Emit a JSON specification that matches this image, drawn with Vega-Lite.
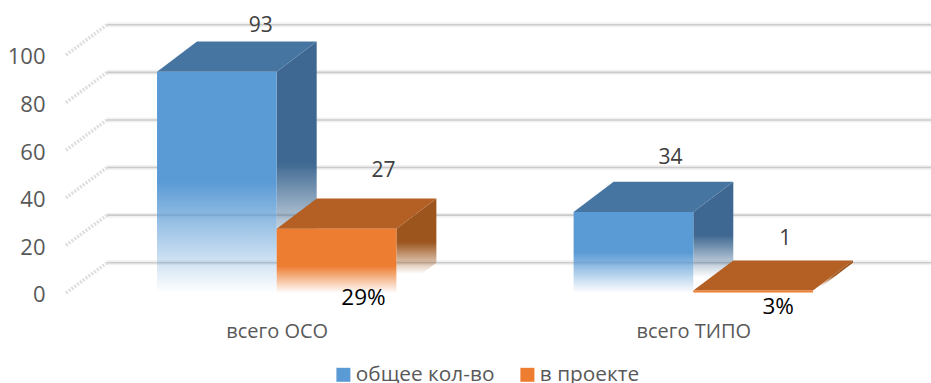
{
"$schema":"https://vega.github.io/schema/vega-lite/v6.json",
"width":931,"height":383,"padding":0,"autosize":"none","background":"white",
"params":[{"name":"barW","value":0.2873},{"name":"depthX","value":0.096},{"name":"depthY","value":12.7}],
"config":{"view":{"stroke":null},"font":"Open Sans"},
"layer":[
{"data":{"values":[{"tick":0},{"tick":20},{"tick":40},{"tick":60},{"tick":80},{"tick":100}]},
 "layer":[
 {"transform":[{"calculate":"datum.tick+depthY","as":"back"},{"calculate":"-0.4073","as":"gx"},{"calculate":"1.5706","as":"gx2"}],
  "mark":{"type":"rule","stroke":"#f1f1f1","strokeWidth":5},
  "encoding":{
   "x":{"field":"gx","type":"quantitative","title":null,"scale":{"domain":[-0.6642,1.5706],"nice":false,"zero":false},
        "axis":{"values":[0,1],"labelExpr":"datum.value==0?'всего ОСО':'всего ТИПО'","domain":false,"ticks":false,"grid":false,"offset":-62,"labelPadding":0,"labelFontSize":20,"labelColor":"#595959","labelFont":"Open Sans","labelFlush":false,"title":null}},
   "x2":{"field":"gx2"},
   "y":{"field":"back","type":"quantitative","title":null,"scale":{"domain":[-37.82,123.11],"nice":false,"zero":false},
        "axis":{"values":[0,20,40,60,80,100],"domain":false,"ticks":false,"grid":false,"offset":-45,"labelPadding":0,"labelOffset":2,"labelFontSize":22,"labelColor":"#595959","labelFont":"Open Sans","title":null}}
  }},
 {"transform":[{"calculate":"datum.tick+depthY","as":"back"},{"calculate":"-0.4073","as":"gx"},{"calculate":"1.5706","as":"gx2"}],
  "mark":{"type":"rule","stroke":"#cbcbcb","strokeWidth":1.6},
  "encoding":{"x":{"field":"gx","type":"quantitative","title":null},"x2":{"field":"gx2"},"y":{"field":"back","type":"quantitative","title":null}}},
 {"transform":[{"calculate":"datum.tick+depthY","as":"back"},{"calculate":"-0.4073","as":"gx"},{"calculate":"-0.5058","as":"gx0"}],
  "mark":{"type":"rule","stroke":"#dedede","strokeWidth":3.5,"strokeDash":[2,1.5]},
  "encoding":{"x":{"field":"gx0","type":"quantitative","title":null},"x2":{"field":"gx"},"y":{"field":"tick","type":"quantitative","title":null},"y2":{"field":"back"}}}
 ]},
{"data":{"values":[
 {"category":"всего ОСО","series":"общее кол-во","value":93},
 {"category":"всего ОСО","series":"в проекте","value":27,"pct":"29%"},
 {"category":"всего ТИПО","series":"общее кол-во","value":34},
 {"category":"всего ТИПО","series":"в проекте","value":1,"pct":"3%"}
 ]},
 "transform":[
  {"calculate":"datum.category=='всего ОСО'?0:1","as":"idx"},
  {"calculate":"datum.idx+(datum.series=='в проекте'?0:-barW)","as":"left"},
  {"calculate":"datum.left+barW","as":"right"},
  {"calculate":"datum.left+barW/2","as":"mid"}
 ],
 "layer":[
 {"mark":{"type":"square","opacity":0},
  "encoding":{"x":{"field":"mid","type":"quantitative","title":null},"y":{"field":"value","type":"quantitative","title":null},
   "color":{"field":"series","type":"nominal","scale":{"domain":["общее кол-во","в проекте"],"range":["#5b9bd5","#ed7d31"]},
    "legend":{"title":null,"orient":"none","legendX":333,"legendY":364,"direction":"horizontal","symbolType":"square","symbolSize":196,"symbolOpacity":1,"symbolStrokeWidth":0,"labelFontSize":20.8,"labelColor":"#595959","labelFont":"Open Sans","columnPadding":22,"labelOffset":2}}}},
 {"transform":[{"filter":"datum.series=='общее кол-во'"}],
  "layer":[
  {"transform":[{"calculate":"[0,1]","as":"c"},{"flatten":["c"]},{"calculate":"datum.right+datum.c*depthX","as":"px"},{"calculate":"datum.value+datum.c*depthY","as":"py"},{"calculate":"datum.c*depthY","as":"py2"}],
   "mark":{"type":"area","fill":{"gradient":"linear","x1":0,"x2":0,"y1":0,"y2":1,"stops":[{"offset":0,"color":"#3e6891"},{"offset":0.48,"color":"#3e6891"},{"offset":0.86,"color":"rgba(62,104,145,0)"},{"offset":1,"color":"rgba(62,104,145,0)"}]}},
   "encoding":{"x":{"field":"px","type":"quantitative","title":null},"y":{"field":"py","type":"quantitative","title":null},"y2":{"field":"py2"},"detail":{"field":"category"}}},
  {"transform":[{"calculate":"[0,1,2,3]","as":"c"},{"flatten":["c"]},{"calculate":"datum.c==0?datum.left:datum.c==1?datum.left+depthX:datum.c==2?datum.right:datum.right+depthX","as":"px"},{"calculate":"datum.value+(datum.c==0?0:depthY)","as":"py"},{"calculate":"datum.value+(datum.c==3?depthY:0)","as":"py2"}],
   "mark":{"type":"area","fill":"#4775a1"},
   "encoding":{"x":{"field":"px","type":"quantitative","title":null},"y":{"field":"py","type":"quantitative","title":null},"y2":{"field":"py2"},"detail":{"field":"category"}}},
  {"mark":{"type":"rect","fill":{"gradient":"linear","x1":0,"x2":0,"y1":0,"y2":1,"stops":[{"offset":0,"color":"#5b9bd5"},{"offset":0.5,"color":"#5b9bd5"},{"offset":1,"color":"rgba(91,155,213,0)"}]}},
   "encoding":{"x":{"field":"left","type":"quantitative","title":null},"x2":{"field":"right"},"y":{"field":"value","type":"quantitative","title":null},"y2":{"datum":0}}}
  ]},
 {"transform":[{"filter":"datum.series=='в проекте'"}],
  "layer":[
  {"transform":[{"calculate":"[0,1]","as":"c"},{"flatten":["c"]},{"calculate":"datum.right+datum.c*depthX","as":"px"},{"calculate":"datum.value+datum.c*depthY","as":"py"},{"calculate":"datum.c*depthY","as":"py2"}],
   "mark":{"type":"area","fill":{"gradient":"linear","x1":0,"x2":0,"y1":0,"y2":1,"stops":[{"offset":0,"color":"#9c551c"},{"offset":0.46,"color":"#9c551c"},{"offset":0.8,"color":"rgba(156,85,28,0)"},{"offset":1,"color":"rgba(156,85,28,0)"}]}},
   "encoding":{"x":{"field":"px","type":"quantitative","title":null},"y":{"field":"py","type":"quantitative","title":null},"y2":{"field":"py2"},"detail":{"field":"category"}}},
  {"transform":[{"calculate":"[0,1,2,3]","as":"c"},{"flatten":["c"]},{"calculate":"datum.c==0?datum.left:datum.c==1?datum.left+depthX:datum.c==2?datum.right:datum.right+depthX","as":"px"},{"calculate":"datum.value+(datum.c==0?0:depthY)","as":"py"},{"calculate":"datum.value+(datum.c==3?depthY:0)","as":"py2"}],
   "mark":{"type":"area","fill":"#b46025"},
   "encoding":{"x":{"field":"px","type":"quantitative","title":null},"y":{"field":"py","type":"quantitative","title":null},"y2":{"field":"py2"},"detail":{"field":"category"}}},
  {"mark":{"type":"rect","fill":{"gradient":"linear","x1":0,"x2":0,"y1":0,"y2":1,"stops":[{"offset":0,"color":"#ed7d31"},{"offset":0.58,"color":"#ed7d31"},{"offset":1,"color":"rgba(237,125,49,0)"}]}},
   "encoding":{"x":{"field":"left","type":"quantitative","title":null},"x2":{"field":"right"},"y":{"field":"value","type":"quantitative","title":null},"y2":{"datum":0}}}
  ]},
 {"transform":[{"filter":"datum.category=='всего ОСО'&&datum.series=='общее кол-во'"}],"mark":{"type":"text","fontSize":21,"color":"#404040","dx":44,"dy":-46,"baseline":"middle"},
  "encoding":{"x":{"field":"mid","type":"quantitative","title":null},"y":{"field":"value","type":"quantitative","title":null},"text":{"field":"value"}}},
 {"transform":[{"filter":"datum.category=='всего ОСО'&&datum.series=='в проекте'"}],"mark":{"type":"text","fontSize":21,"color":"#404040","dx":47,"dy":-58,"baseline":"middle"},
  "encoding":{"x":{"field":"mid","type":"quantitative","title":null},"y":{"field":"value","type":"quantitative","title":null},"text":{"field":"value"}}},
 {"transform":[{"filter":"datum.category=='всего ТИПО'&&datum.series=='общее кол-во'"}],"mark":{"type":"text","fontSize":21,"color":"#404040","dx":37,"dy":-54,"baseline":"middle"},
  "encoding":{"x":{"field":"mid","type":"quantitative","title":null},"y":{"field":"value","type":"quantitative","title":null},"text":{"field":"value"}}},
 {"transform":[{"filter":"datum.category=='всего ТИПО'&&datum.series=='в проекте'"}],"mark":{"type":"text","fontSize":21,"color":"#404040","dx":32,"dy":-52,"baseline":"middle"},
  "encoding":{"x":{"field":"mid","type":"quantitative","title":null},"y":{"field":"value","type":"quantitative","title":null},"text":{"field":"value"}}},
 {"transform":[{"filter":"datum.category=='всего ОСО'&&datum.series=='в проекте'"}],"mark":{"type":"text","fontSize":22.5,"color":"#000000","dx":27,"dy":69,"baseline":"middle"},
  "encoding":{"x":{"field":"mid","type":"quantitative","title":null},"y":{"field":"value","type":"quantitative","title":null},"text":{"field":"pct"}}},
 {"transform":[{"filter":"datum.category=='всего ТИПО'&&datum.series=='в проекте'"}],"mark":{"type":"text","fontSize":22.5,"color":"#000000","dx":25,"dy":16,"baseline":"middle"},
  "encoding":{"x":{"field":"mid","type":"quantitative","title":null},"y":{"field":"value","type":"quantitative","title":null},"text":{"field":"pct"}}}
 ]}
]}
